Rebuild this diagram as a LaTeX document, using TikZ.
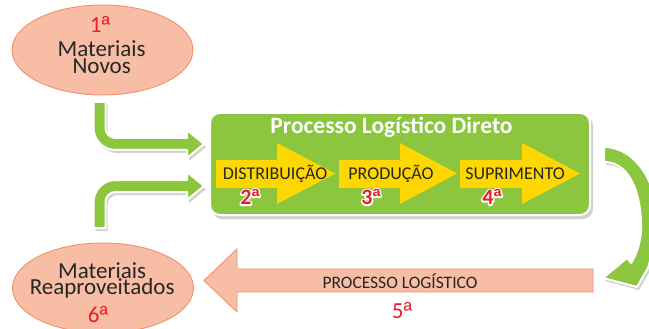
\documentclass[tikz,border=0pt]{standalone}
\usepackage{fontspec}
\setmainfont{Carlito}
\newfontfamily\ordfont{Liberation Sans}
\usetikzlibrary{shapes.geometric}
\definecolor{grn}{RGB}{140,198,63}
\definecolor{yel}{RGB}{255,215,0}
\definecolor{salF}{RGB}{248,189,165}
\definecolor{salD}{RGB}{240,145,110}
\definecolor{redT}{RGB}{232,30,40}
\definecolor{darkT}{RGB}{38,38,38}
\newcommand{\oa}{{\ordfont ª}}
\newcommand{\redout}[1]{\rlap{\color{white}\special{pdf:literal direct 1 Tr 3 w 1 j}#1\special{pdf:literal direct 0 Tr 0.4 w 0 j}}#1}
\newcommand{\twolines}[3]{\vtop{\baselineskip=#1\lineskiplimit=-1000pt\lineskip=0pt\halign{\hfil##\hfil\cr #2\cr #3\cr}}}
\newcommand{\upperArrowPath}{(93.5,102) -- (93.5,128) .. controls (93.5,140) and (103.5,150) .. (115.5,150) -- (187,150) -- (187,158) -- (204,144) -- (187,130) -- (187,138) -- (115.5,138) .. controls (110,138) and (105.5,133.5) .. (105.5,128) -- (105.5,102) -- cycle}
\newcommand{\lowerArrowPath}{(93.5,228) -- (93.5,202) .. controls (93.5,190) and (103.5,180) .. (115.5,180) -- (187,180) -- (187,172) -- (204,186) -- (187,200) -- (187,192) -- (115.5,192) .. controls (110,192) and (105.5,196.5) .. (105.5,202) -- (105.5,228) -- cycle}
\newcommand{\curvedArrowPath}{(604,147) .. controls (636,147) and (660,185) .. (656,225) .. controls (654,245) and (651,258) .. (648,268) -- (637,287) -- (603,278) -- (627,258) -- (631,263) .. controls (638,252) and (642,238) .. (641,220) .. controls (639,185) and (626,162) .. (604,162) -- cycle}
\begin{document}
\begin{tikzpicture}[x=1pt,y=-1pt,
  salmon/.style={fill=salF, draw=salD, line width=0.9pt},
  greenarrow/.style={fill=grn, draw=white, line width=2pt, line join=round},
  shadowc/.style={fill=black, opacity=0.18, draw=none},
  yelarrow/.style={fill=yel, draw=none},
  lbl/.style={text=darkT, inner sep=0pt},
  redlbl/.style={text=redT, inner sep=0pt},
  bigfont/.style={font=\fontsize{23}{23}\selectfont},
  midfont/.style={font=\fontsize{18}{18}\selectfont},
  numfont/.style={font=\bfseries\fontsize{22}{22}\selectfont}]
\useasboundingbox (0,0) rectangle (649,329);
% ellipses
\node[ellipse, salmon, minimum width=181pt, minimum height=90pt, inner sep=0pt] (nov) at (102.5,50) {};
\node[ellipse, salmon, minimum width=181pt, minimum height=90pt, inner sep=0pt] (reap) at (103,288) {};
\node[redlbl, bigfont, anchor=base] (n1) at (100,33) {1\oa};
\node[lbl, bigfont, anchor=base] (novT) at (101.7,56.7) {\twolines{16.6pt}{Materiais}{Novos}};
\node[lbl, bigfont, anchor=base] (reapT) at (102.2,278) {\twolines{17pt}{Materiais}{Reaproveitados}};
\node[redlbl, bigfont, anchor=base] (n6) at (98,322) {6\oa};
% green bent arrows
\path[shadowc, shift={(2,3)}] \upperArrowPath;
\path[shadowc, shift={(2,3)}] \lowerArrowPath;
\path[greenarrow] \upperArrowPath;
\path[greenarrow] \lowerArrowPath;
% process box
\path[shadowc, rounded corners=10pt] (212,116) rectangle (593,219);
\node[fill=grn, draw=white, line width=2pt, rounded corners=10pt, minimum width=380pt, minimum height=102pt, inner sep=0pt] (proc) at (400,164) {};
\node[text=white, inner sep=0pt, font=\bfseries\fontsize{23.5}{23.5}\selectfont] (title) at (391.5,127) {Processo Logístico Direto};
% yellow arrows
\path[yelarrow] (216,160) -- (277,160) -- (277,143) -- (335,173.5) -- (277,204) -- (277,188) -- (216,188) -- cycle;
\path[yelarrow] (339,160) -- (400,160) -- (400,143) -- (457,173.5) -- (400,204) -- (400,188) -- (339,188) -- cycle;
\path[yelarrow] (460,160) -- (522,160) -- (522,143) -- (580,173.5) -- (522,204) -- (522,188) -- (460,188) -- cycle;
\node[lbl, midfont] (dist) at (275,174) {DISTRIBUIÇÃO};
\node[lbl, midfont] (prod) at (391,174) {PRODUÇÃO};
\node[lbl, midfont] (supr) at (515,174) {SUPRIMENTO};
\node[redlbl, numfont] (n2) at (250,197) {\redout{2\oa}};
\node[redlbl, numfont] (n3) at (371,197) {\redout{3\oa}};
\node[redlbl, numfont] (n4) at (492,197) {\redout{4\oa}};
% curved arrow on the right
\path[shadowc, shift={(2,3)}] \curvedArrowPath;
\path[greenarrow] \curvedArrowPath;
% salmon backward arrow
\path[salmon] (593,269) -- (237,269) -- (237,249) -- (204,280.5) -- (237,312) -- (237,292) -- (593,292) -- cycle;
\node[lbl, font=\fontsize{17.5}{17.5}\selectfont] (plog) at (400,281) {PROCESSO LOGÍSTICO};
\node[redlbl, bigfont] (n5) at (402,311) {5\oa};
\end{tikzpicture}
\end{document}
